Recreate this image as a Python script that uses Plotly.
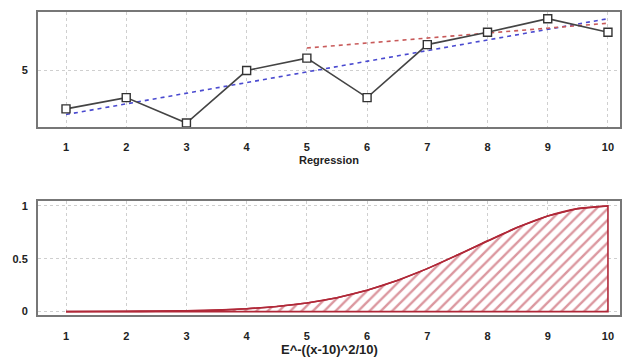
import plotly.graph_objects as go

# ---- data ----
x_pts = [1, 2, 3, 4, 5, 6, 7, 8, 9, 10]
y_pts = [1.6, 2.6, 0.35, 5.0, 6.1, 2.6, 7.3, 8.4, 9.6, 8.4]

reg_all_x = [1, 10]
reg_all_y = [1.1, 9.6]
reg_part_x = [5, 10]
reg_part_y = [7.0, 9.2]

curve_x = [1, 1.5, 2, 2.5, 3, 3.5, 4, 4.5, 5, 5.5, 6, 6.5, 7, 7.5, 8, 8.5, 9, 9.5, 10]
curve_y = [0.0003, 0.0007, 0.0017, 0.0036, 0.0074, 0.0146, 0.027, 0.049, 0.082,
           0.132, 0.202, 0.294, 0.407, 0.535, 0.670, 0.798, 0.905, 0.975, 1.0]

x_ticks = [1, 2, 3, 4, 5, 6, 7, 8, 9, 10]
top_yticks = [5]
bot_yticks = [0, 0.5, 1]
bot_ytick_text = ["0", "0.5", "1"]

title_top = "Regression"
title_bot = "E^-((x-10)^2/10)"

# ---- figure ----
W, H = 630, 357
FAM = "Liberation Sans, Arial, sans-serif"
FONT = dict(family=FAM, size=11, color="#222")
RED = "#b02838"

def py(px):
    return 1 - px / H

fig = go.Figure()

fig.add_trace(go.Scatter(x=reg_all_x, y=reg_all_y, mode="lines",
                         line=dict(color="#4a4ad0", width=1.6, dash="4px,4px"),
                         xaxis="x", yaxis="y", showlegend=False))
fig.add_trace(go.Scatter(x=reg_part_x, y=reg_part_y, mode="lines",
                         line=dict(color="#c85a5a", width=1.6, dash="4px,4px"),
                         xaxis="x", yaxis="y", showlegend=False))
fig.add_trace(go.Scatter(x=x_pts, y=y_pts, mode="lines+markers",
                         line=dict(color="#444", width=1.6),
                         marker=dict(symbol="square", size=8, color="white",
                                     line=dict(color="#333", width=1.4)),
                         xaxis="x", yaxis="y", showlegend=False))

# hatched area (closed polygon: curve, down the right edge, along the baseline)
poly_x = curve_x + [curve_x[-1], curve_x[0], curve_x[0]]
poly_y = curve_y + [0, 0, curve_y[0]]
fig.add_trace(go.Scatter(x=poly_x, y=poly_y, mode="lines", fill="toself",
                         line=dict(color=RED, width=1.6),
                         fillcolor="rgba(0,0,0,0)",
                         fillpattern=dict(shape="/", fgcolor="#b83040", bgcolor="white",
                                          size=8, solidity=0.3),
                         xaxis="x2", yaxis="y2", showlegend=False))
# smooth outline of the curve on top
fig.add_trace(go.Scatter(x=curve_x, y=curve_y, mode="lines",
                         line=dict(color=RED, width=1.6, shape="spline"),
                         xaxis="x2", yaxis="y2", showlegend=False))

xd = [38 / W, 620 / W]
tickfont = dict(family=FAM, size=11, color="#222", weight="bold")
common_x = dict(range=[0.535, 10.2], tickvals=x_ticks, showgrid=True,
                gridcolor="#cfcfcf", griddash="dot", gridwidth=1,
                showline=True, linecolor="#777", linewidth=2, mirror=True,
                zeroline=False, ticks="", ticklabelstandoff=9,
                tickfont=tickfont, domain=xd)
common_y = dict(showgrid=True, gridcolor="#cfcfcf", griddash="dot", gridwidth=1,
                showline=True, linecolor="#777", linewidth=2, mirror=True,
                zeroline=False, ticks="", ticklabelstandoff=6, tickfont=tickfont)

fig.update_layout(
    width=W, height=H, margin=dict(l=0, r=0, t=0, b=0),
    paper_bgcolor="white", plot_bgcolor="white", font=FONT,
    xaxis=dict(**common_x, anchor="y"),
    yaxis=dict(**common_y, range=[0, 10.2], tickvals=top_yticks,
               domain=[py(127), py(11)], anchor="x"),
    xaxis2=dict(**common_x, anchor="y2"),
    yaxis2=dict(**common_y, range=[-0.035, 1.044], tickvals=bot_yticks,
                ticktext=bot_ytick_text, domain=[py(317), py(202)], anchor="x2"),
    annotations=[
        dict(text="<b>" + title_top + "</b>", x=(xd[0] + xd[1]) / 2, y=py(160),
             xref="paper", yref="paper", showarrow=False,
             font=dict(family=FAM, size=11, color="#222"),
             xanchor="center", yanchor="middle"),
        dict(text="<b>" + title_bot + "</b>", x=(xd[0] + xd[1]) / 2 + 0.5 / W, y=py(351),
             xref="paper", yref="paper", showarrow=False,
             font=dict(family=FAM, size=13, color="#222"),
             xanchor="center", yanchor="middle"),
    ],
)

fig.write_html("out.html")
